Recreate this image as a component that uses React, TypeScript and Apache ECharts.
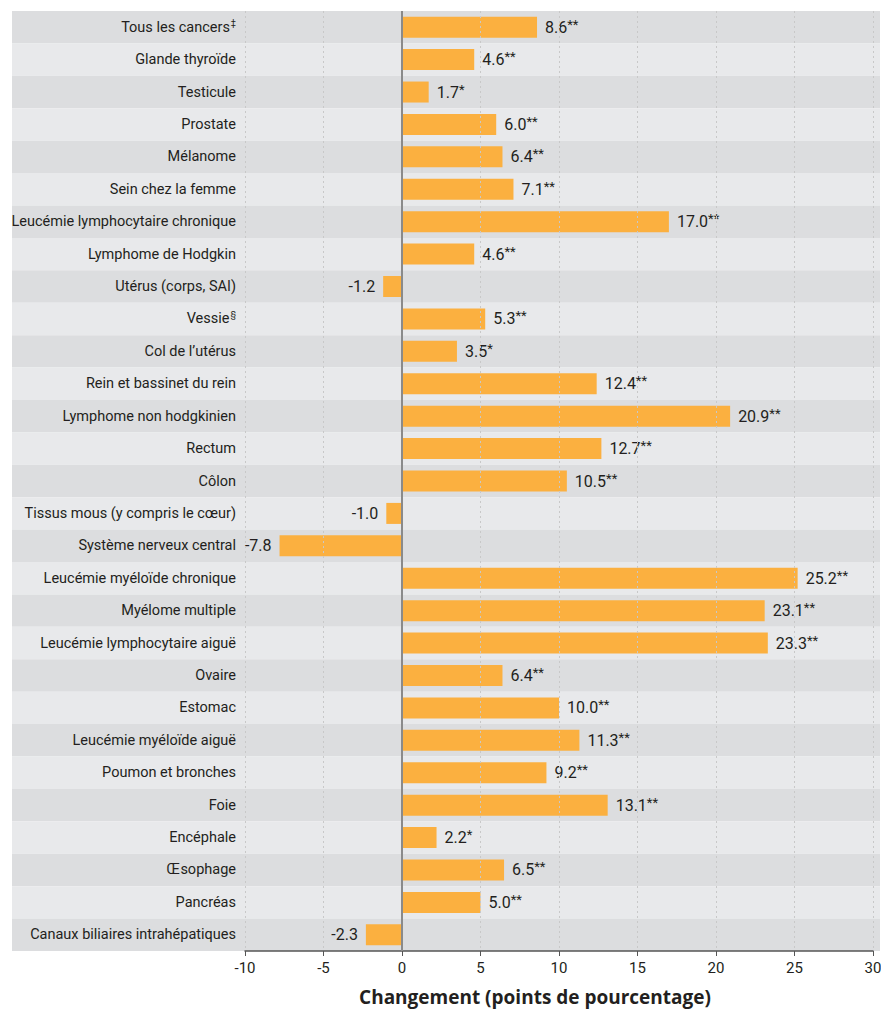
import React, { useEffect, useRef } from "react";
import * as echarts from "echarts";

const categories = [
  "Tous les cancers", "Glande thyroïde", "Testicule", "Prostate", "Mélanome",
  "Sein chez la femme", "Leucémie lymphocytaire chronique", "Lymphome de Hodgkin",
  "Utérus (corps, SAI)", "Vessie", "Col de l’utérus", "Rein et bassinet du rein",
  "Lymphome non hodgkinien", "Rectum", "Côlon", "Tissus mous (y compris le cœur)",
  "Système nerveux central", "Leucémie myéloïde chronique", "Myélome multiple",
  "Leucémie lymphocytaire aiguë", "Ovaire", "Estomac", "Leucémie myéloïde aiguë",
  "Poumon et bronches", "Foie", "Encéphale", "Œsophage", "Pancréas",
  "Canaux biliaires intrahépatiques",
];
const categoryMarks = [
  "‡", "", "", "", "", "", "", "", "", "§", "", "", "", "", "", "", "", "", "", "", "", "", "", "", "", "", "", "", "",
];
const values = [
  8.6, 4.6, 1.7, 6.0, 6.4, 7.1, 17.0, 4.6, -1.2, 5.3, 3.5, 12.4, 20.9, 12.7, 10.5,
  -1.0, -7.8, 25.2, 23.1, 23.3, 6.4, 10.0, 11.3, 9.2, 13.1, 2.2, 6.5, 5.0, -2.3,
];
const significance = [
  "**", "**", "*", "**", "**", "**", "**", "**", "", "**", "*", "**", "**", "**", "**",
  "", "", "**", "**", "**", "**", "**", "**", "**", "**", "*", "**", "**", "",
];
const xTicks = { min: -10, max: 30, interval: 5 };
const axisTitle = "Changement (points de pourcentage)";

const FONT = "Roboto, 'Noto Sans', sans-serif";
const TITLE_FONT = "'Open Sans', 'Noto Sans', sans-serif";
const TEXT = "#231f20";

export default function App() {
  const ref = useRef<HTMLDivElement>(null);
  useEffect(() => {
    if (!ref.current) return;
    const chart = echarts.init(ref.current, undefined, { renderer: "svg" });
    const data = values.map((v) => ({
      value: v,
      label: { position: v < 0 ? "left" : "right" },
    }));
    chart.setOption({
      animation: false,
      textStyle: { fontFamily: FONT },
      grid: [
        { left: 12, right: 1, top: 11, bottom: 59, containLabel: false, outerBoundsMode: "none" },
        { left: 245, right: 8, top: 11, bottom: 59, containLabel: false, outerBoundsMode: "none" },
      ],
      xAxis: [
        { gridIndex: 0, type: "value", min: 0, max: 1, show: false },
        {
          gridIndex: 1,
          type: "value",
          min: xTicks.min,
          max: xTicks.max,
          interval: xTicks.interval,
          z: 3,
          axisLine: { show: true, onZero: false, lineStyle: { color: "#555", width: 1.5 } },
          axisTick: { show: true, length: 5, lineStyle: { color: "#555" } },
          axisLabel: { color: TEXT, fontSize: 15, margin: 9, fontFamily: FONT },
          splitLine: { show: true, lineStyle: { color: "#c8c8c8", type: [2, 3], width: 1 } },
        },
      ],
      yAxis: [
        {
          gridIndex: 0,
          type: "category",
          data: categories,
          inverse: true,
          z: -1,
          axisLine: { show: false },
          axisTick: { show: false },
          axisLabel: { show: false },
          splitLine: { show: false },
          splitArea: { show: true, areaStyle: { color: ["#dcdddf", "#e8e9eb"] } },
        },
        {
          gridIndex: 1,
          type: "category",
          data: categories,
          inverse: true,
          z: 3,
          axisLine: { show: false, onZero: false },
          axisTick: { show: false },
          axisLabel: {
            margin: 9,
            formatter: (_v: string, i: number) =>
              `{n|${categories[i]}}` + (categoryMarks[i] ? `{s|${categoryMarks[i]}}` : ""),
            rich: {
              n: { fontSize: 14.5, color: TEXT, fontFamily: FONT },
              s: { fontSize: 9, color: TEXT, fontFamily: FONT, verticalAlign: "top", padding: [0, 0, 8, 1] },
            },
          },
          splitLine: { show: false },
        },
      ],
      series: [
        {
          type: "bar",
          xAxisIndex: 1,
          yAxisIndex: 1,
          data,
          barWidth: 21,
          itemStyle: { color: "#fbb040" },
          label: {
            show: true,
            distance: 8,
            formatter: (p: any) =>
              `{v|${Number(p.value).toFixed(1)}}` +
              (significance[p.dataIndex] ? `{s|${significance[p.dataIndex]}}` : ""),
            rich: {
              v: { fontSize: 16, color: TEXT, fontFamily: FONT },
              s: { fontSize: 13, color: TEXT, fontFamily: FONT, padding: [0, 0, 6, 0] },
            },
          },
          markLine: {
            silent: true,
            symbol: "none",
            label: { show: false },
            lineStyle: { color: "#8a8a8a", width: 2, type: "solid" },
            data: [{ xAxis: 0 }],
          },
        },
      ],
      graphic: [
        {
          type: "text",
          x: 535,
          y: 997,
          style: {
            text: axisTitle,
            fontSize: 19,
            fontWeight: "bold",
            fontFamily: TITLE_FONT,
            fill: TEXT,
            textAlign: "center",
            textVerticalAlign: "middle",
          },
        },
      ],
    });
    return () => chart.dispose();
  }, []);
  return <div ref={ref} style={{ width: 881, height: 1010, position: "absolute", left: 0, top: 0 }} />;
}
